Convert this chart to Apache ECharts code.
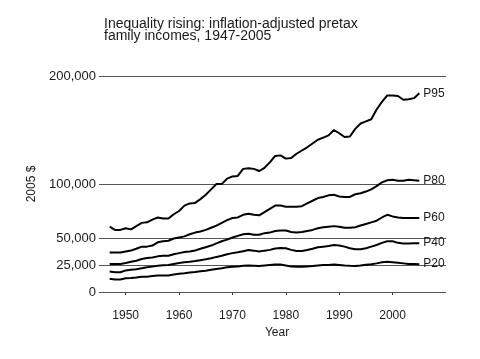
<!DOCTYPE html>
<html>
<head>
<meta charset="utf-8">
<script src="https://cdn.jsdelivr.net/npm/echarts@6/dist/echarts.min.js"></script>
<style>html,body{margin:0;padding:0;background:#fff}#c{width:480px;height:359px}</style>
</head>
<body>
<div id="c"></div>
<script>
const years = [];
for (let y = 1947; y <= 2005; y++) years.push(y);

const p95 = [60.5,57.5,57.5,59,58,61,64,64.5,67,69,68,68,72,75,80,82,82.5,86,90,95,100,100,105,107,107.5,114,114.5,114,112,115,120,126,126.5,123.5,124,128,131,134,137.5,141,143,145,150,147,143.5,144,151,156,158,160,169,176,182,182,181.5,178,178.5,179.5,184];
const p80 = [36.5,36.5,36.5,37.5,38.5,40,42,42,43,46,47,47.5,49.5,50.5,51.5,53.5,55,56,57.5,59.5,61.5,64,66.5,68.5,69,71.5,72.5,71.5,71,74,77,80,80,79,79,79,79.5,82,84.5,87,88,89.5,90,88.5,88,88,90.5,91.5,93,95,98,101.5,103.5,104,103,103,104,103.5,103];
const p60 = [26,26,26,26.8,28,29,30.5,31.5,32,33,33.5,33.5,35,36,37,37.5,38.5,40,41.5,43,45,47,48.5,50.5,52,53.5,54,53,53,54.5,55,56.5,57,57,55.5,55,55.5,56.5,57.5,59,60,60.5,61,60.5,59.5,59.5,60,61.5,63,64.5,66,69,71.5,70,69,68.5,68.5,68.5,68.5];
const p40 = [19,18.3,18.3,20,20.5,21,22,23,23.5,24.2,24.7,25,26,26.8,27.5,28,28.7,29.5,30.3,31.3,32.5,33.5,35,36,36.8,37.8,38.8,38.3,37.5,38.3,39,40.3,40.8,40.5,39,38,38,38.8,40,41.5,42,42.5,43.5,43,42,40.5,39.5,39.5,40.5,42,43.5,45.5,47,47,45.5,45,45,45.2,45.2];
const p20 = [12.3,11.5,11.5,12.8,13,13.5,14.2,14.2,14.8,15.2,15.3,15.3,16.2,16.8,17.3,18,18.5,19.2,19.7,20.5,21.3,22,23,23.3,23.5,24.3,24.5,24.3,24,24.5,25,25.5,25.5,24.5,23.5,23.3,23.3,23.7,24,24.5,25,25,25.5,25,24.5,24.2,24,24.5,25.3,25.8,26.5,27.5,28,27.5,27,26.5,26,26,25.8];

const seriesNames = ['P95','P80','P60','P40','P20'];
const seriesValues = [p95, p80, p60, p40, p20];
const yTicks = [0, 25000, 50000, 100000, 200000];
const xTicks = [1950, 1960, 1970, 1980, 1990, 2000];

const FONT = 'Arial, "Liberation Sans", sans-serif';
const TXT = '#1a1a1a';

const series = seriesNames.map((name, i) => {
  const s = {
    name: name,
    type: 'line',
    data: years.map((y, j) => [y, seriesValues[i][j] * 1000]),
    showSymbol: false,
    symbol: 'none',
    lineStyle: { color: '#000', width: 2 },
    itemStyle: { color: '#000' },
    z: 3,
    endLabel: {
      show: true,
      formatter: name,
      color: TXT,
      fontFamily: FONT,
      fontSize: 12,
      distance: 4
    }
  };
  if (i === 0) {
    s.markLine = {
      silent: true,
      symbol: 'none',
      label: { show: false },
      lineStyle: { color: '#555', width: 1, type: 'solid' },
      z: 1,
      data: yTicks.map(v => ({ yAxis: v }))
    };
  }
  return s;
});

const chart = echarts.init(document.getElementById('c'), null, { renderer: 'canvas' });
chart.setOption({
  animation: false,
  backgroundColor: '#fff',
  title: {
    text: 'Inequality rising: inflation-adjusted pretax\nfamily incomes, 1947-2005',
    left: 99,
    top: 13,
    textStyle: { fontFamily: FONT, fontSize: 14, fontWeight: 'normal', color: TXT, lineHeight: 12 }
  },
  grid: { left: 99, right: 34, top: 76, bottom: 67 },
  xAxis: {
    type: 'value',
    min: 1945,
    max: 2010,
    offset: 10,
    name: 'Year',
    nameLocation: 'middle',
    nameGap: 22,
    nameTextStyle: { fontFamily: FONT, fontSize: 12, color: TXT, padding: [0, 0, 0, 9] },
    axisLine: { show: false },
    axisTick: { show: true, length: 3, customValues: xTicks, lineStyle: { color: '#333', width: 1 } },
    axisLabel: { customValues: xTicks, margin: 8, fontFamily: FONT, fontSize: 12, color: TXT, formatter: v => String(v) },
    splitLine: { show: false }
  },
  yAxis: {
    type: 'value',
    min: 0,
    max: 200000,
    name: '2005 $',
    nameLocation: 'middle',
    nameGap: 59,
    nameRotate: 90,
    nameTextStyle: { fontFamily: FONT, fontSize: 12, color: TXT },
    axisLine: { show: false },
    axisTick: { show: false },
    axisLabel: {
      customValues: yTicks,
      margin: 3,
      fontFamily: FONT,
      fontSize: 13,
      color: TXT,
      formatter: v => v.toLocaleString('en-US')
    },
    splitLine: { show: false }
  },
  series: series
});
</script>
</body>
</html>
